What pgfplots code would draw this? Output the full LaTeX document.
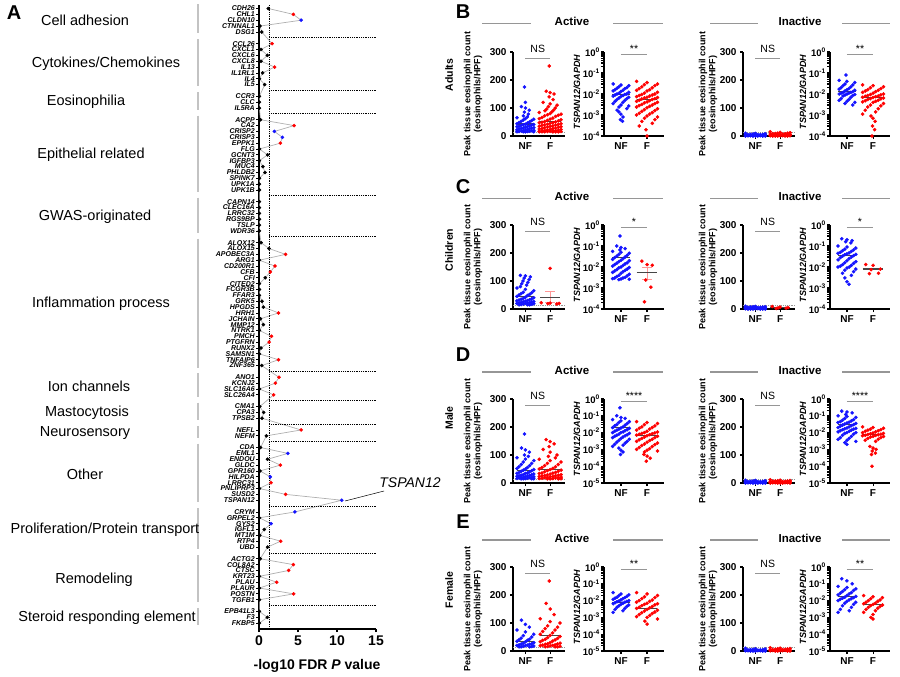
\documentclass[border=0pt]{standalone}
\usepackage{fontspec}
\setmainfont{Liberation Sans}
\usepackage{pgfplots}
\usepackage{pgfplotstable}
\pgfplotsset{compat=1.18}
\definecolor{cblue}{RGB}{20,20,255}
\definecolor{cred}{RGB}{255,0,0}
\definecolor{linegray}{RGB}{175,175,175}
\definecolor{bargray}{RGB}{195,195,195}
\definecolor{meangray}{RGB}{70,70,70}
\definecolor{sgray}{RGB}{150,150,150}
\definecolor{errpink}{RGB}{255,150,150}

\pgfplotstableread{
g r x c
CDH26 0 1.2 k
CHL1 1 4.4 r
CLDN10 2 5.4 b
CTNNAL1 3 0.13 k
DSG1 4 0.35 k
CCL26 6 1.67 r
CXCL1 7 0.26 k
CXCL6 8 1.07 k
CXCL8 9 0.26 k
IL13 10 2.0 r
IL1RL1 11 0.47 k
IL4 12 0.05 k
IL5 13 0.73 k
CCR3 15 0.05 k
CLC 16 0.05 k
IL5RA 17 0.05 k
ACPP 19 0.2 k
CA2 20 4.5 r
CRISP2 21 1.97 b
CRISP3 22 3.0 b
EPPK1 23 2.74 r
FLG 24 0.05 k
GCNT3 25 1.1 k
IGFBP3 26 0.05 k
MUC4 27 0.5 k
PHLDB2 28 0.77 k
SPINK7 29 0.05 k
UPK1A 30 0.05 k
UPK1B 31 0.05 k
CAPN14 33 0.05 k
CLEC16A 34 0.05 k
LRRC32 35 0.05 k
RGS9BP 36 0.05 k
TSLP 37 0.05 k
WDR36 38 0.05 k
ALOX12 40 0.26 k
ALOX15 41 1.28 k
APOBEC3A 42 3.4 r
ARG1 43 0.05 k
CD200R1 44 2.05 r
CFB 45 1.45 r
CFI 46 0.8 k
CITED2 47 0.05 k
FCGR3B 48 0.05 k
FFAR3 49 0.05 k
GRK5 50 0.39 k
HPGDS 51 0.56 k
HRH1 52 2.5 r
JCHAIN 53 0.2 k
MMP12 54 0.56 k
NTRK1 55 0.05 k
PMCH 56 1.6 r
PTGFRN 57 1.3 r
RUNX2 58 0.26 k
SAMSN1 59 0.05 k
TNFAIP6 60 2.5 r
ZNF365 61 0.35 k
ANO1 63 2.56 r
KCNJ2 64 2.1 r
SLC16A6 65 0.05 k
SLC26A4 66 1.88 r
CMA1 68 0.1 k
CPA3 69 0.6 k
TPSB2 70 0.39 k
NEFL 72 5.4 r
NEFM 73 0.94 k
CDA 75 0.2 k
EML1 76 3.7 b
ENDOU 77 1.1 k
GLDC 78 2.74 r
GPR160 79 0.13 k
HILPDA 80 1.45 b
LRRC31 81 1.54 r
PNLIPRP3 82 0.05 k
SUSD2 83 3.4 r
TSPAN12 84 10.6 b
CRYM 86 4.6 b
GRPEL2 87 0.05 k
GYS2 88 1.54 b
IGFL1 89 0.68 k
MT1M 90 0.1 k
RTP4 91 2.78 r
UBD 92 1.1 k
ACTG2 94 0.15 k
COL8A2 95 4.4 r
CTSC 96 3.8 r
KRT23 97 0.05 k
PLAU 98 2.27 r
PLAUR 99 0.05 k
POSTN 100 4.45 r
TGFB1 101 0.05 k
EPB41L3 103 0.05 k
F3 104 1.07 k
FKBP5 105 0.05 k
}\genes

\newcommand{\grp}[4]{\addplot[only marks, mark=*, mark size=1.6pt, color=#2, mark options={draw=none}] table[row sep=\\, header=false, x expr={#1+#3*(mod(\coordindex*4,9)-4)}, y index=0] {#4};}
\newcommand{\mean}[3]{\addplot[meangray, line width=1.1pt] coordinates {(#1,#3) (#2,#3)};}
\newcommand{\sigL}[1]{\draw[sgray, line width=1pt] (axis cs:1,276) -- (axis cs:2,276); \node[font=\fontsize{10.5}{10.5}\selectfont] at (axis cs:1.5,310) {#1};}
\newcommand{\sigG}[1]{\draw[sgray, line width=1pt] ({axis cs:1,1} |- {rel axis cs:0,0.973}) -- ({axis cs:2,1} |- {rel axis cs:0,0.973}); \node[font=\fontsize{10.5}{10.5}\selectfont, anchor=base, inner sep=0pt] at ({axis cs:1.5,1} |- {rel axis cs:0,0.995}) {#1};}
\newcommand{\thr}{\draw[sgray, densely dotted, line width=0.9pt] (rel axis cs:0,0.045) -- (rel axis cs:1,0.045);}
\newcommand{\cat}[3]{\node[font=\fontsize{14.5}{14.5}\selectfont] at (#2,{-(8.3+#1*5.86)}) {#3};}
\newcommand{\cbar}[2]{\draw[bargray, line width=2pt] (198,{-(8.3+(#1-0.7)*5.86)}) -- (198,{-(8.3+(#2+0.3)*5.86)});}

\pgfplotsset{
 dotbase/.style={scale only axis, anchor=south west, height=84pt, axis x line*=bottom, axis y line*=left,
   axis line style={line width=1.2pt}, xtick={1,2}, xticklabels={NF,F},
   tick align=outside, major tick length=3pt, tick style={black, line width=1.1pt},
   ticklabel style={font=\fontsize{10}{10}\selectfont\bfseries},
   clip=false, /pgf/number format/assume math mode=true},
 linst/.style={dotbase, width=52pt, xmin=0.5, xmax=2.6, ymin=0, ymax=300, ytick={0,100,200,300}},
 logfour/.style={dotbase, width=60pt, xmin=0.35, xmax=2.65, ymin=1e-4, ymax=1, ytick={1e-4,1e-3,1e-2,1e-1,1},
   yticklabel style={font=\fontsize{9.5}{9.5}\selectfont\bfseries, inner sep=1pt},
   yticklabels={10\textsuperscript{-4},10\textsuperscript{-3},10\textsuperscript{-2},10\textsuperscript{-1},10\textsuperscript{0}}},
 logfive/.style={dotbase, width=60pt, xmin=0.35, xmax=2.65, ymin=1e-5, ymax=1, ytick={1e-5,1e-4,1e-3,1e-2,1e-1,1},
   yticklabel style={font=\fontsize{9.5}{9.5}\selectfont\bfseries, inner sep=1pt},
   yticklabels={10\textsuperscript{-5},10\textsuperscript{-4},10\textsuperscript{-3},10\textsuperscript{-2},10\textsuperscript{-1},10\textsuperscript{0}}},
}
\newcommand{\yl}{\fontsize{9}{10}\selectfont\bfseries}

\begin{document}
\begin{tikzpicture}[x=1pt,y=1pt]
\path[use as bounding box] (0,0) rectangle (900,-677);

% ================= Panel A =================
\node[font=\fontsize{20}{20}\selectfont\bfseries] at (14,-13) {A};
\begin{axis}[at={(259pt,-629pt)}, anchor=south west, scale only axis, width=117pt, height=624pt,
  xmin=0, xmax=15, ymin=-106, ymax=0.6,
  axis x line*=bottom, axis y line*=left, axis line style={line width=1.3pt},
  xtick={0,5,10,15}, ytick=data, yticklabels from table={\genes}{g},
  tick align=outside, major tick length=3pt, tick style={black, line width=0.8pt},
  x tick style={line width=1.3pt}, 
  yticklabel style={font=\fontsize{7}{7}\selectfont\bfseries\itshape, inner sep=1pt},
  xticklabel style={font=\fontsize{14}{14}\selectfont\bfseries},
  clip=false, /pgf/number format/assume math mode=true]
\addplot[linegray, line width=0.7pt, no markers] table[x=x, y expr=-\thisrow{r}] {\genes};
\addplot[scatter, only marks, scatter src=explicit symbolic, mark size=1.6pt,
  scatter/classes={k={mark=*,black}, r={mark=*,cred}, b={mark=*,cblue}}]
  table[x=x, y expr=-\thisrow{r}, meta=c] {\genes};
\draw[black, densely dotted, line width=0.8pt] (axis cs:1.3,0.6) -- (axis cs:1.3,-106);
\pgfplotsinvokeforeach{5,14,18,32,39,62,67,71,74,85,93,102}{
  \draw[black, densely dotted, line width=0.8pt] (axis cs:1.3,-#1) -- (axis cs:15,-#1);
}
\end{axis}
\node[font=\fontsize{14}{14}\selectfont\bfseries] at (317,-666) {-log10 FDR \textit{P} value};
\node[font=\fontsize{14}{14}\selectfont\itshape] at (410,-483) {TSPAN12};
\draw[black, line width=0.5pt] (384,-491) -- (345,-501);

\cbar{0}{4} \cbar{6}{13} \cbar{15}{17} \cbar{19}{31} \cbar{33}{38} \cbar{40}{61} \cbar{63}{66}
\cbar{68}{70} \cbar{72}{73} \cbar{75}{84} \cbar{86}{92} \cbar{94}{101} \cbar{103}{105}
\cat{2}{85}{Cell adhesion}
\cat{9.5}{106}{Cytokines/Chemokines}
\cat{16}{86}{Eosinophilia}
\cat{25}{91}{Epithelial related}
\cat{35.5}{95}{GWAS-originated}
\cat{50.5}{101}{Inflammation process}
\cat{64.5}{89}{Ion channels}
\cat{69}{87}{Mastocytosis}
\cat{72.5}{85}{Neurosensory}
\cat{79.5}{85}{Other}
\cat{89}{105}{Proliferation/Protein transport}
\cat{97.5}{94}{Remodeling}
\cat{104}{107}{Steroid responding element}

% ================= headers / labels right =================
\foreach \yy/\lt/\ly/\rl/\rly in {21.7/B/12/Adults/75, 196.7/C/187/Children/250, 370/D/355/Male/418, 538/E/522/Female/590}{
  \node[font=\fontsize{11.5}{11.5}\selectfont\bfseries] at (572,-\yy) {Active};
  \node[font=\fontsize{11.5}{11.5}\selectfont\bfseries] at (800,-\yy) {Inactive};
  \draw[sgray, line width=1.2pt] (482,{-\yy-2}) -- (531,{-\yy-2});
  \draw[sgray, line width=1.2pt] (613,{-\yy-2}) -- (663,{-\yy-2});
  \draw[sgray, line width=1.2pt] (710,{-\yy-2}) -- (758,{-\yy-2});
  \draw[sgray, line width=1.2pt] (842,{-\yy-2}) -- (890,{-\yy-2});
  \node[font=\fontsize{20}{20}\selectfont\bfseries] at (463,-\ly) {\lt};
  \node[font=\fontsize{10.5}{10.5}\selectfont\bfseries, rotate=90] at (449,-\rly) {\rl};
}
\foreach \yb in {136,309,483,651}{
  \node[rotate=90, align=center, font=\yl] at (473,{-\yb+42}) {Peak tissue eosinophil count\\(eosinophils/HPF)};
  \node[rotate=90, font=\yl\itshape] at (577,{-\yb+44}) {TSPAN12/GAPDH};
  \node[rotate=90, align=center, font=\yl] at (708,{-\yb+42}) {Peak tissue eosinophil count\\(eosinophils/HPF)};
  \node[rotate=90, font=\yl\itshape] at (803,{-\yb+44}) {TSPAN12/GAPDH};
}

% ================= Row B (Adults) =================
\begin{axis}[linst, at={(513pt,-136pt)}]
\thr
\grp{1}{cblue}{0.01}{175\\120\\}
\grp{1}{cblue}{0.04}{105\\100\\92\\85\\78\\72\\68\\}
\grp{1}{cblue}{0.085}{65\\62\\60\\57\\55\\52\\50\\48\\46\\44\\42\\41\\40\\39\\38\\36\\35\\34\\33\\32\\30\\29\\28\\27\\26\\25\\24\\22\\21\\20\\20\\19\\18\\17\\16\\16\\15\\15\\15\\15\\}
\mean{0.67}{1.33}{43}
\grp{2}{cred}{0.01}{250\\}
\grp{2}{cred}{0.04}{160\\155\\150\\140\\130\\}
\grp{2}{cred}{0.07}{120\\115\\110\\105\\100\\96\\92\\90\\86\\}
\grp{2}{cred}{0.11}{84\\80\\78\\76\\74\\72\\70\\66\\64\\62\\60\\58\\56\\54\\52\\50\\49\\48\\47\\45\\44\\42\\41\\40\\39\\38\\36\\35\\34\\33\\32\\31\\30\\28\\27\\26\\25\\24\\23\\22\\21\\20\\19\\18\\18\\17\\17\\16\\16\\15\\15\\15\\15\\15\\15\\}
\mean{1.58}{2.42}{52}
\sigL{NS}
\end{axis}

\begin{axis}[ymode=log, logfour, at={(604pt,-136pt)}]
\grp{1}{cblue}{0.075}{0.03\\0.027\\0.025\\0.022\\0.02\\0.019\\0.018\\0.016\\0.015\\0.014\\0.013\\0.012\\0.011\\0.01\\0.01\\0.0095\\0.009\\0.0085\\0.008\\0.0075\\0.007\\0.0065\\0.006\\0.0055\\0.005\\0.0045\\0.004\\0.0035\\0.003\\0.0027\\0.0024\\0.002\\0.0017\\}
\grp{1}{cblue}{0.02}{0.0014\\0.0011\\0.0008\\0.0006\\0.0005\\}
\mean{0.67}{1.33}{0.0095}
\grp{2}{cred}{0.1}{0.04\\0.035\\0.03\\0.028\\0.025\\0.022\\0.02\\0.018\\0.016\\0.015\\0.014\\0.012\\0.011\\0.01\\0.0095\\0.009\\0.0085\\0.008\\0.0075\\0.007\\0.0068\\0.0065\\0.006\\0.0058\\0.0055\\0.005\\0.0048\\0.0045\\0.0042\\0.004\\0.0038\\0.0035\\0.0032\\0.003\\0.0028\\0.0026\\0.0024\\0.0022\\0.002\\0.0018\\0.0016\\0.0015\\0.0013\\0.0012\\0.0011\\0.001\\0.0009\\0.0008\\0.0007\\0.0006\\0.0005\\0.0004\\0.0003\\}
\grp{2}{cred}{0.01}{0.0002\\0.0001\\}
\mean{1.6}{2.4}{0.0055}
\sigG{**}
\end{axis}

\begin{axis}[linst, at={(743pt,-136pt)}]
\thr
\grp{1}{cblue}{0.1}{10\\9\\8\\7\\6\\6\\5\\5\\5\\4\\4\\4\\3\\3\\3\\3\\2\\2\\2\\2\\2\\1\\1\\1\\1\\1\\0\\0\\0\\0\\0\\0\\}
\mean{0.67}{1.33}{3}
\grp{2}{cred}{0.1}{15\\13\\12\\10\\10\\9\\8\\8\\7\\7\\6\\6\\5\\5\\5\\4\\4\\4\\3\\3\\3\\3\\2\\2\\2\\2\\1\\1\\1\\1\\0\\0\\0\\0\\0\\}
\mean{1.6}{2.4}{4}
\sigL{NS}
\end{axis}

\begin{axis}[ymode=log, logfour, at={(830pt,-136pt)}]
\grp{1}{cblue}{0.01}{0.08\\}
\grp{1}{cblue}{0.075}{0.045\\0.04\\0.035\\0.03\\0.027\\0.025\\0.022\\0.02\\0.018\\0.017\\0.016\\0.015\\0.014\\0.013\\0.012\\0.012\\0.011\\0.011\\0.01\\0.01\\0.0095\\0.009\\0.0085\\0.008\\0.007\\0.006\\0.0055\\0.005\\0.0045\\0.004\\0.0035\\0.003\\}
\mean{0.67}{1.33}{0.013}
\grp{2}{cred}{0.1}{0.027\\0.025\\0.022\\0.02\\0.018\\0.016\\0.015\\0.014\\0.013\\0.012\\0.011\\0.01\\0.0095\\0.009\\0.0085\\0.008\\0.0078\\0.0075\\0.007\\0.0068\\0.0065\\0.006\\0.0058\\0.0055\\0.005\\0.0048\\0.0045\\0.0042\\0.004\\0.0035\\0.003\\0.0027\\0.0024\\0.002\\0.0017\\0.0014\\0.0011\\}
\grp{2}{cred}{0.02}{0.0009\\0.0007\\0.0005\\0.0003\\0.0002\\0.0001\\}
\mean{1.6}{2.4}{0.0068}
\sigG{**}
\end{axis}

% ================= Row C (Children) =================
\begin{axis}[linst, at={(513pt,-309pt)}]
\thr
\grp{1}{cblue}{0.05}{120\\118\\115\\110\\105\\100\\95\\90\\85\\80\\}
\grp{1}{cblue}{0.085}{75\\70\\65\\60\\58\\55\\52\\50\\48\\45\\42\\40\\38\\36\\35\\33\\32\\30\\29\\28\\27\\26\\25\\24\\23\\22\\21\\20\\20\\19\\18\\17\\16\\15\\15\\15\\}
\mean{0.67}{1.33}{45}
\addplot[errpink, line width=1pt] coordinates {(2,22) (2,62)};
\addplot[errpink, line width=1pt] coordinates {(1.8,62) (2.2,62)};
\addplot[errpink, line width=1pt] coordinates {(1.8,22) (2.2,22)};
\grp{2}{cred}{0.0}{145\\}
\grp{2}{cred}{0.09}{22\\21\\20\\19\\18\\}
\mean{1.6}{2.4}{42}
\sigL{NS}
\end{axis}

\begin{axis}[ymode=log, logfour, at={(604pt,-309pt)}]
\grp{1}{cblue}{0.01}{0.3\\}
\grp{1}{cblue}{0.04}{0.1\\0.085\\0.075\\0.065\\}
\grp{1}{cblue}{0.08}{0.055\\0.05\\0.045\\0.04\\0.036\\0.033\\0.03\\0.028\\0.025\\0.023\\0.021\\0.02\\0.018\\0.016\\0.015\\0.014\\0.013\\0.012\\0.011\\0.01\\0.0095\\0.009\\0.008\\0.0075\\0.007\\0.0065\\0.006\\0.0055\\0.005\\0.0045\\0.004\\0.0038\\0.0035\\0.0032\\0.003\\0.003\\0.0028\\0.0027\\0.0026\\0.0025\\}
\mean{0.67}{1.33}{0.027}
\addplot[errpink, line width=1pt] coordinates {(2,0.0026) (2,0.0093)};
\addplot[errpink, line width=1pt] coordinates {(1.8,0.0093) (2.2,0.0093)};
\addplot[errpink, line width=1pt] coordinates {(1.8,0.0026) (2.2,0.0026)};
\grp{2}{cred}{0.05}{0.019\\0.013\\0.012\\0.0024\\0.0011\\0.00022\\}
\mean{1.6}{2.4}{0.0055}
\sigG{*}
\end{axis}

\begin{axis}[linst, at={(743pt,-309pt)}]
\thr
\grp{1}{cblue}{0.1}{10\\9\\8\\8\\7\\7\\6\\6\\5\\5\\5\\4\\4\\4\\4\\3\\3\\3\\3\\2\\2\\2\\2\\2\\1\\1\\1\\1\\1\\0\\0\\0\\0\\0\\0\\}
\mean{0.67}{1.33}{3}
\grp{2}{cred}{0.08}{9\\7\\5\\4\\3\\2\\}
\mean{1.6}{2.4}{5}
\sigL{NS}
\end{axis}

\begin{axis}[ymode=log, logfour, at={(830pt,-309pt)}]
\grp{1}{cblue}{0.05}{0.22\\0.2\\0.18\\0.16\\0.14\\}
\grp{1}{cblue}{0.085}{0.1\\0.09\\0.08\\0.07\\0.065\\0.06\\0.055\\0.05\\0.047\\0.045\\0.042\\0.04\\0.038\\0.035\\0.033\\0.03\\0.028\\0.025\\0.022\\0.02\\0.018\\0.016\\0.015\\0.013\\0.012\\0.011\\0.01\\0.01\\0.009\\0.008\\0.007\\0.006\\0.005\\0.004\\}
\grp{1}{cblue}{0.02}{0.003\\0.002\\0.0015\\}
\mean{0.67}{1.33}{0.036}
\grp{2}{cred}{0.07}{0.013\\0.012\\0.008\\0.0075\\0.005\\0.0048\\}
\mean{1.6}{2.4}{0.008}
\sigG{*}
\end{axis}

% ================= Row D (Male) =================
\begin{axis}[linst, at={(513pt,-483pt)}]
\thr
\grp{1}{cblue}{0.01}{175\\}
\grp{1}{cblue}{0.04}{125\\118\\110\\100\\95\\}
\grp{1}{cblue}{0.085}{90\\85\\80\\75\\70\\66\\62\\58\\55\\52\\50\\48\\46\\44\\42\\40\\38\\36\\35\\34\\32\\30\\29\\28\\27\\26\\25\\24\\23\\22\\21\\20\\20\\19\\18\\17\\16\\16\\15\\15\\15\\15\\}
\mean{0.67}{1.33}{45}
\grp{2}{cred}{0.04}{155\\148\\140\\130\\}
\grp{2}{cred}{0.07}{120\\110\\100\\95\\90\\}
\grp{2}{cred}{0.11}{85\\80\\75\\70\\66\\62\\58\\55\\52\\50\\48\\46\\44\\42\\40\\38\\36\\35\\34\\32\\30\\29\\28\\27\\26\\25\\24\\23\\22\\21\\20\\20\\19\\18\\17\\16\\16\\15\\15\\15\\15\\}
\mean{1.58}{2.42}{47}
\sigL{NS}
\end{axis}

\begin{axis}[ymode=log, logfive, at={(604pt,-483pt)}]
\grp{1}{cblue}{0.01}{0.3\\}
\grp{1}{cblue}{0.04}{0.1\\0.08\\0.07\\}
\grp{1}{cblue}{0.08}{0.06\\0.05\\0.045\\0.04\\0.035\\0.03\\0.028\\0.025\\0.022\\0.02\\0.019\\0.018\\0.016\\0.015\\0.014\\0.013\\0.012\\0.011\\0.01\\0.01\\0.009\\0.008\\0.0075\\0.007\\0.0065\\0.006\\0.0055\\0.005\\0.0045\\0.004\\0.0035\\0.003\\0.0027\\0.0024\\0.002\\0.0018\\0.0015\\}
\grp{1}{cblue}{0.02}{0.0012\\0.0009\\0.0007\\0.0005\\}
\mean{0.67}{1.33}{0.021}
\grp{2}{cred}{0.1}{0.045\\0.04\\0.035\\0.03\\0.025\\0.022\\0.02\\0.018\\0.016\\0.014\\0.012\\0.011\\0.01\\0.0095\\0.009\\0.0085\\0.008\\0.0075\\0.007\\0.0065\\0.006\\0.0055\\0.005\\0.0045\\0.004\\0.0037\\0.0034\\0.003\\0.0027\\0.0024\\0.0021\\0.0019\\0.0017\\0.0015\\0.0013\\0.0011\\0.001\\0.0009\\0.0008\\0.0007\\}
\grp{2}{cred}{0.03}{0.0005\\0.0004\\0.0003\\0.0002\\}
\mean{1.6}{2.4}{0.0069}
\sigG{****}
\end{axis}

\begin{axis}[linst, at={(743pt,-483pt)}]
\thr
\grp{1}{cblue}{0.1}{10\\9\\8\\7\\6\\6\\5\\5\\5\\4\\4\\4\\3\\3\\3\\3\\2\\2\\2\\2\\2\\1\\1\\1\\1\\1\\0\\0\\0\\0\\0\\0\\}
\mean{0.67}{1.33}{3}
\grp{2}{cred}{0.1}{12\\10\\9\\8\\7\\7\\6\\6\\5\\5\\5\\4\\4\\4\\3\\3\\3\\3\\2\\2\\2\\2\\1\\1\\1\\1\\0\\0\\0\\0\\0\\}
\mean{1.6}{2.4}{4}
\sigL{NS}
\end{axis}

\begin{axis}[ymode=log, logfive, at={(830pt,-483pt)}]
\grp{1}{cblue}{0.05}{0.19\\0.17\\0.15\\0.12\\}
\grp{1}{cblue}{0.085}{0.1\\0.09\\0.08\\0.07\\0.06\\0.055\\0.05\\0.045\\0.042\\0.04\\0.037\\0.035\\0.032\\0.03\\0.028\\0.026\\0.024\\0.022\\0.02\\0.019\\0.018\\0.017\\0.016\\0.015\\0.014\\0.013\\0.012\\0.011\\0.01\\0.01\\0.009\\0.008\\0.007\\0.006\\0.005\\0.0045\\0.004\\0.0035\\0.003\\}
\grp{1}{cblue}{0.02}{0.0025\\0.002\\}
\mean{0.67}{1.33}{0.03}
\grp{2}{cred}{0.1}{0.022\\0.02\\0.018\\0.016\\0.015\\0.014\\0.013\\0.012\\0.011\\0.01\\0.0095\\0.009\\0.0085\\0.008\\0.0078\\0.0075\\0.007\\0.0068\\0.0065\\0.006\\0.0058\\0.0055\\0.005\\0.0045\\0.004\\0.0035\\0.003\\}
\grp{2}{cred}{0.03}{0.0015\\0.0012\\0.001\\0.0008\\0.0006\\0.0005\\}
\grp{2}{cred}{0.01}{0.0001\\}
\mean{1.6}{2.4}{0.0076}
\sigG{****}
\end{axis}

% ================= Row E (Female) =================
\begin{axis}[linst, at={(513pt,-651pt)}]
\thr
\grp{1}{cblue}{0.04}{110\\95\\85\\}
\grp{1}{cblue}{0.085}{75\\68\\60\\55\\50\\46\\42\\40\\38\\35\\33\\30\\28\\26\\25\\24\\22\\21\\20\\19\\18\\17\\16\\15\\15\\15\\}
\mean{0.67}{1.33}{35}
\grp{2}{cred}{0.01}{250\\}
\grp{2}{cred}{0.04}{170\\150\\130\\}
\grp{2}{cred}{0.1}{115\\105\\100\\90\\85\\80\\75\\70\\65\\60\\56\\52\\48\\45\\42\\40\\38\\35\\33\\30\\28\\26\\25\\24\\22\\21\\20\\19\\18\\17\\16\\15\\15\\15\\}
\mean{1.58}{2.42}{55}
\sigL{NS}
\end{axis}

\begin{axis}[ymode=log, logfive, at={(604pt,-651pt)}]
\grp{1}{cblue}{0.075}{0.03\\0.025\\0.022\\0.02\\0.018\\0.016\\0.015\\0.014\\0.013\\0.012\\0.011\\0.01\\0.0095\\0.009\\0.0085\\0.008\\0.0075\\0.007\\0.0065\\0.006\\0.0055\\0.005\\0.0045\\0.004\\0.0035\\0.003\\0.0025\\0.002\\}
\mean{0.67}{1.33}{0.008}
\grp{2}{cred}{0.1}{0.03\\0.025\\0.02\\0.017\\0.015\\0.013\\0.011\\0.01\\0.009\\0.008\\0.007\\0.0065\\0.006\\0.0055\\0.005\\0.0045\\0.004\\0.0037\\0.0034\\0.003\\0.0027\\0.0024\\0.0021\\0.0019\\0.0017\\0.0015\\0.0013\\0.0011\\0.001\\0.0008\\}
\grp{2}{cred}{0.02}{0.0006\\0.0004\\}
\mean{1.6}{2.4}{0.0035}
\sigG{**}
\end{axis}

\begin{axis}[linst, at={(743pt,-651pt)}]
\thr
\grp{1}{cblue}{0.1}{10\\8\\7\\6\\5\\5\\4\\4\\3\\3\\3\\2\\2\\2\\2\\1\\1\\1\\1\\0\\0\\0\\0\\0\\}
\mean{0.67}{1.33}{3}
\grp{2}{cred}{0.1}{12\\10\\9\\8\\7\\6\\6\\5\\5\\4\\4\\3\\3\\3\\2\\2\\2\\1\\1\\1\\0\\0\\0\\0\\}
\mean{1.6}{2.4}{4}
\sigL{NS}
\end{axis}

\begin{axis}[ymode=log, logfive, at={(830pt,-651pt)}]
\grp{1}{cblue}{0.05}{0.2\\0.15\\0.1\\}
\grp{1}{cblue}{0.085}{0.07\\0.06\\0.05\\0.045\\0.04\\0.035\\0.03\\0.028\\0.025\\0.022\\0.02\\0.018\\0.016\\0.015\\0.014\\0.013\\0.012\\0.011\\0.01\\0.009\\0.008\\0.007\\0.006\\0.005\\0.004\\0.003\\0.0025\\0.002\\}
\mean{0.67}{1.33}{0.018}
\grp{2}{cred}{0.09}{0.02\\0.017\\0.015\\0.013\\0.011\\0.01\\0.009\\0.008\\0.007\\0.0065\\0.006\\0.0055\\0.005\\0.0045\\0.004\\0.0035\\0.003\\0.0025\\0.002\\0.0015\\}
\grp{2}{cred}{0.02}{0.001\\0.0008\\}
\mean{1.6}{2.4}{0.006}
\sigG{**}
\end{axis}

\end{tikzpicture}
\end{document}
